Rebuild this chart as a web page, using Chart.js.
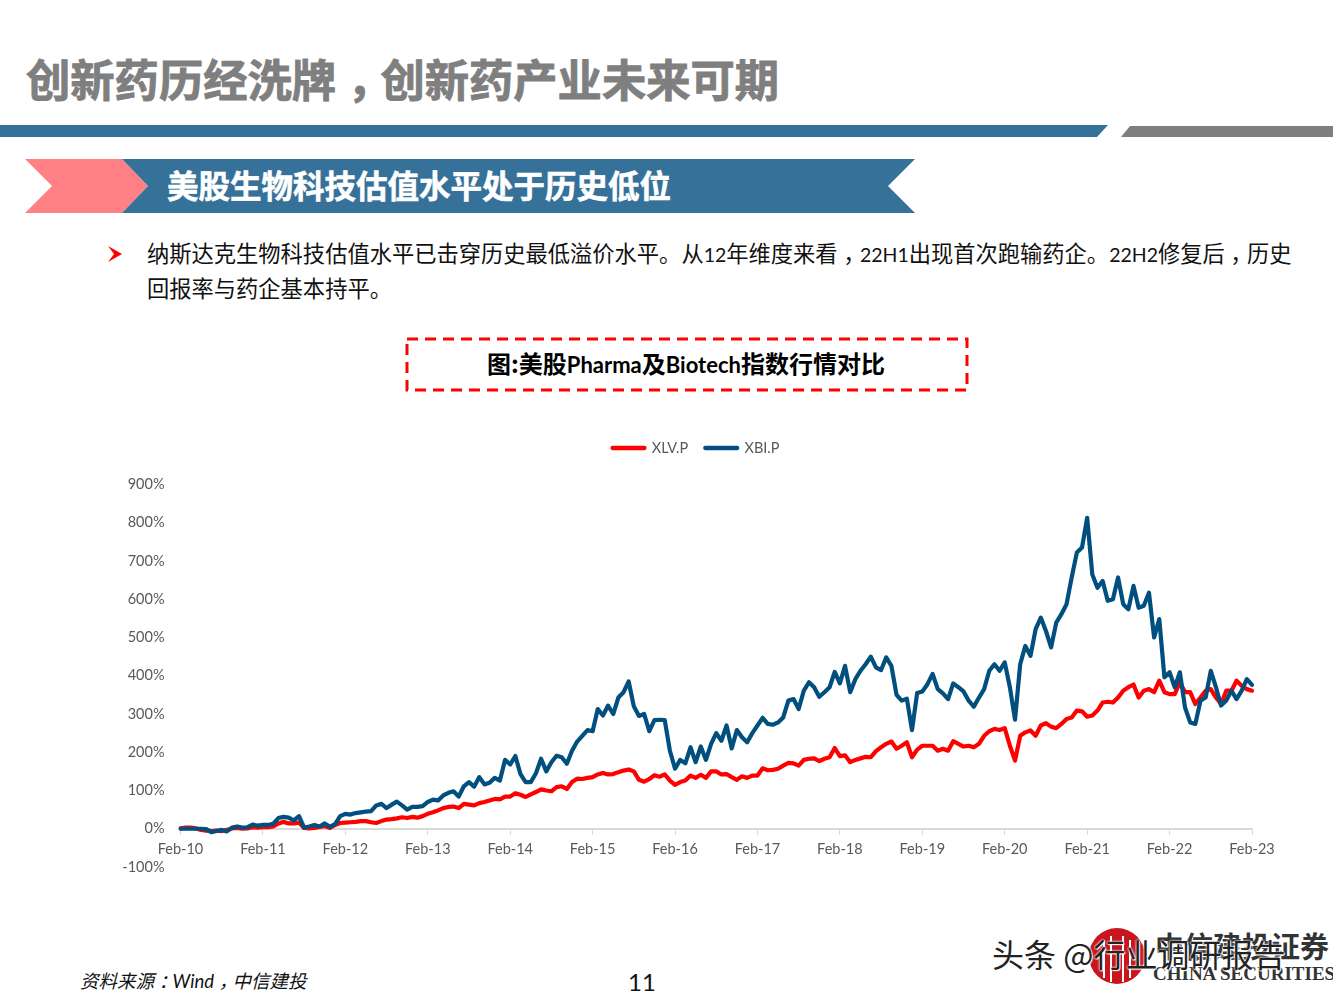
<!DOCTYPE html>
<html><head><meta charset="utf-8">
<script src="https://cdn.jsdelivr.net/npm/chart.js@4"></script>
<style>
html,body{margin:0;padding:0;background:#fff;width:1333px;height:1000px;overflow:hidden}
#wrap{position:relative;width:1333px;height:1000px;overflow:hidden}
canvas{position:absolute;left:0;top:0}
.t{position:absolute;white-space:nowrap;font-family:"Noto Sans CJK SC",sans-serif;line-height:1}
.t i{font-style:inherit;position:relative;left:.25em}
.l{font-family:Lato,sans-serif}
svg.bg{position:absolute;left:0;top:0}
</style></head><body>
<div id="wrap">
<svg class="bg" width="1333" height="1000">
<polygon points="0,125 1108,125 1097,137 0,137" fill="#367199"/>
<polygon points="1130,126 1333,126 1333,137 1121,137" fill="#7f7f7f"/>
<polygon points="25,159 122,159 148,186 122,213 25,213 52,186" fill="#ff8085"/>
<polygon points="122,159 915,159 888,186 915,213 122,213 148,186" fill="#367199"/>
<polygon points="108,246 122,254 108,262 114,254" fill="#ff0000"/>
<rect x="407" y="339" width="560" height="51" fill="none" stroke="#ff0000" stroke-width="3" stroke-dasharray="11 7"/>
<circle cx="1117" cy="956" r="28" fill="#c9151e"/>
<g stroke="#fff" stroke-width="2"><line x1="1104" y1="940" x2="1104" y2="978"/><line x1="1111" y1="936" x2="1111" y2="982"/><line x1="1123" y1="936" x2="1123" y2="982"/><line x1="1130" y1="940" x2="1130" y2="978"/></g>
</svg>
<div class="t" style="left:26px;top:56px;font-size:44.3px;font-weight:700;color:#7f7f7f;-webkit-text-stroke:0.9px #7f7f7f">创新药历经洗牌<i>，</i>创新药产业未来可期</div>
<div class="t" style="left:167px;top:169px;font-size:31.5px;font-weight:700;color:#fff;-webkit-text-stroke:0.6px #fff">美股生物科技估值水平处于历史低位</div>
<div class="t" style="left:147px;top:241px;font-size:22.28px;color:#111">纳斯达克生物科技估值水平已击穿历史最低溢价水平。从<span class="l" style="font-size:19.5px">12</span>年维度来看<i>，</i><span class="l" style="font-size:19.5px">22H1</span>出现首次跑输药企。<span class="l" style="font-size:19.5px">22H2</span>修复后<i>，</i>历史</div>
<div class="t" style="left:147px;top:276px;font-size:22.28px;color:#111">回报率与药企基本持平。</div>
<div class="t" style="left:487px;top:351px;font-size:24px;font-weight:700;color:#000">图:美股<span class="l" style="font-size:22px">Pharma</span>及<span class="l" style="font-size:22px">Biotech</span>指数行情对比</div>
<div class="t" style="left:80px;top:971px;font-size:18.5px;font-style:italic;color:#111">资料来源<i>：</i><span class="l">Wind</span><i>，</i>中信建投</div>
<div class="t l" style="left:628px;top:970px;font-size:24px;color:#111">11</div>
<div class="t" style="left:1155px;top:931px;font-size:29px;font-weight:700;color:#333">中信建投证券</div>
<div class="t" style="left:1153px;top:964px;font-size:19px;font-weight:700;color:#333;font-family:'Liberation Serif',serif">CHINA SECURITIES</div>
<div class="t" style="left:992px;top:937px;font-size:32px;color:#222;text-shadow:0 0 2px #fff,0 0 2px #fff,1px 1px 1px #fff">头条 @行业调研报告</div>
<canvas id="c" width="1333" height="1000"></canvas>
</div>
<script>
const yearTicks = ['Feb-10','Feb-11','Feb-12','Feb-13','Feb-14','Feb-15','Feb-16','Feb-17','Feb-18','Feb-19','Feb-20','Feb-21','Feb-22','Feb-23'];
const yTicksStep = 100;
const xlv = [
1,3,3,1,-3,-5,-6,-5,-6,-3,1,2,0,1,4,3,
4,4,6,14,18,14,14,16,2,1,2,5,7,2,10,15,
16,17,18,20,20,17,15,20,24,25,27,30,28,31,29,33,
39,43,48,54,57,58,54,65,63,61,67,70,74,78,77,84,
84,93,89,83,90,96,103,100,98,109,111,104,122,131,130,133,
135,142,146,142,143,148,152,155,150,128,123,130,140,136,142,126,
115,122,126,139,133,141,133,150,150,142,143,135,128,137,133,139,
139,158,153,154,157,165,172,171,165,180,183,184,177,183,187,211,
190,192,174,180,184,188,187,203,213,222,228,209,217,226,187,207,
217,217,217,204,209,204,229,222,215,217,213,222,243,255,261,258,
263,217,178,243,252,257,243,270,276,267,263,274,287,291,309,307,
293,296,309,330,332,330,343,361,370,377,343,361,365,357,387,357,
352,352,383,357,357,326,343,361,365,343,326,361,361,387,374,365,
361];
const xbi = [
0,0,0,0,0,-1,-9,-6,-3,-7,3,6,3,4,11,8,
10,10,13,28,31,29,22,33,3,6,10,6,14,5,12,33,
39,37,41,43,45,46,61,65,54,63,71,61,50,57,57,59,
70,76,74,87,94,98,84,111,122,110,135,116,120,133,126,180,
168,190,143,122,122,145,183,150,174,191,187,170,204,228,243,258,
255,313,296,322,300,343,357,385,320,295,300,255,284,285,284,204,
157,180,171,213,174,215,180,222,250,230,270,210,258,239,226,250,
270,290,274,272,278,291,335,339,313,361,383,370,345,357,370,410,
380,426,357,391,413,430,450,422,415,448,426,350,335,340,258,355,
359,378,405,365,354,339,380,370,359,335,319,343,365,413,430,413,
435,370,285,430,478,452,522,552,517,474,539,561,587,657,722,735,
813,665,630,648,596,600,657,587,574,635,578,583,617,500,548,396,
409,370,409,317,278,274,335,343,413,370,322,335,361,339,361,391,
376];
const PER_YEAR = 16;
const labels = xlv.map((_, i) => i);
const font = {family: 'Lato, sans-serif', size: 14.5};
const legendSpacing = {
  id:'legendSpacing',
  beforeInit(chart){
    const fit = chart.legend.fit;
    chart.legend.fit = function(){ fit.call(this); this.height += 19.25; };
  },
  afterLayout(chart){ chart.legend.left += 9.75; chart.legend.right += 9.75; }
};
new Chart(document.getElementById('c'), {
  type: 'line',
  plugins:[legendSpacing],
  data: {labels, datasets: [
    {label:'XLV.P', data:xlv, borderColor:'#ff0000', backgroundColor:'#ff0000', borderWidth:4.2, pointRadius:0, tension:0, order:2, borderCapStyle:'round', borderJoinStyle:'round'},
    {label:'XBI.P', data:xbi, borderColor:'#004f7e', backgroundColor:'#004f7e', borderWidth:4.2, pointRadius:0, tension:0, order:1, borderCapStyle:'round', borderJoinStyle:'round'}
  ]},
  options: {
    responsive:false, animation:false, devicePixelRatio:1,
    layout:{padding:{left:120.5,right:81,top:423.75,bottom:133}},
    plugins:{tooltip:{enabled:false},
      legend:{display:true,position:'top',align:'center',
        labels:{boxWidth:32,boxHeight:0.1,padding:17,color:'#595959',font:font,
          sort:(a,b)=>a.datasetIndex-b.datasetIndex}}},
    scales:{
      x:{type:'category',position:{y:0},offset:false,
        grid:{display:true,drawOnChartArea:false,drawTicks:true,tickLength:5,color:'#d9d9d9'},
        border:{display:true,color:'#d9d9d9',width:2},
        ticks:{autoSkip:false,maxRotation:0,minRotation:0,padding:7,color:'#595959',font:font,
          callback:(v,i)=> i%PER_YEAR===0 ? yearTicks[i/PER_YEAR] : null}},
      y:{min:-100,max:900,
        afterFit:s=>{s.width=60},
        grid:{display:false},border:{display:false},
        ticks:{stepSize:yTicksStep,padding:8,color:'#595959',font:font,callback:v=>v+'%'}}
    }
  }
});
</script>
</body></html>
